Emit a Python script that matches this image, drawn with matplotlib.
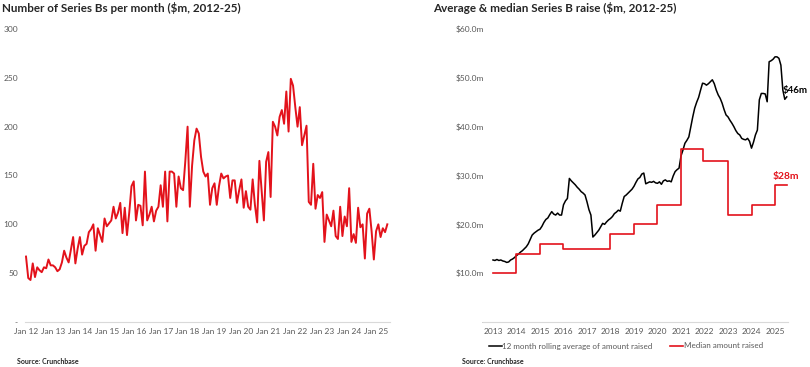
import matplotlib
matplotlib.use("Agg")
import matplotlib.pyplot as plt
import numpy as np

# ---------------- data ----------------
# Left: number of Series B rounds per month, Jan 2012 .. Jun 2025
monthly_counts = [
    67, 45, 43, 60, 46, 56, 53, 51, 56, 55, 64, 58,          # 2012
    58, 56, 52, 54, 61, 73, 66, 61, 74, 87, 60, 75,          # 2013
    87, 69, 78, 80, 92, 95, 100, 73, 96, 89, 82, 106,        # 2014
    98, 101, 104, 118, 106, 112, 122, 91, 117, 89, 112, 139, # 2015
    144, 104, 120, 119, 99, 154, 104, 110, 118, 103, 114, 118,  # 2016
    140, 118, 154, 103, 154, 154, 152, 118, 149, 137, 135, 165, # 2017
    200, 118, 160, 186, 198, 193, 169, 154, 149, 152, 120, 137, # 2018
    142, 120, 139, 152, 147, 149, 150, 127, 145, 145, 122, 135, # 2019
    146, 117, 134, 118, 115, 146, 120, 102, 165, 135, 104, 164, # 2020
    174, 128, 205, 200, 191, 210, 217, 203, 236, 195, 249, 242, # 2021
    220, 200, 220, 181, 191, 201, 123, 120, 162, 116, 130, 127, # 2022
    133, 82, 110, 104, 98, 114, 88, 85, 118, 88, 108, 98,       # 2023
    137, 82, 90, 81, 117, 97, 100, 65, 111, 116, 93, 64,        # 2024
    93, 100, 87, 96, 92, 100,                                   # 2025
]
left_tick_labels = ["Jan %02d" % y for y in range(12, 26)]
left_y_ticks = [0, 50, 100, 150, 200, 250, 300]
left_y_labels = ["-", "50", "100", "150", "200", "250", "300"]

# Right: 12 month rolling average raise ($m), Jan 2013 .. Jul 2025
rolling_avg = [
    12.7, 12.6, 12.8, 12.6, 12.7, 12.5, 12.4, 12.2, 12.3, 12.7, 12.9, 13.2,   # 2013
    13.6, 13.9, 14.3, 14.6, 15.0, 15.4, 16.0, 16.9, 17.8, 18.2, 18.5, 18.8,   # 2014
    19.0, 19.6, 20.4, 21.0, 21.3, 22.0, 22.6, 22.1, 21.9, 22.3, 21.9, 21.9,   # 2015
    24.0, 24.8, 25.3, 29.4, 28.9, 28.5, 28.1, 27.6, 27.2, 26.7, 26.4, 26.0,   # 2016
    24.6, 23.0, 21.9, 17.4, 17.8, 18.3, 18.8, 19.5, 20.2, 20.0, 20.5, 20.9,   # 2017
    21.2, 21.6, 22.2, 22.5, 22.9, 22.7, 24.3, 25.7, 26.0, 26.4, 26.8, 27.2,   # 2018
    27.8, 28.6, 29.3, 29.6, 30.3, 30.5, 28.3, 28.5, 28.7, 28.6, 28.8, 28.5,   # 2019
    28.4, 28.7, 28.2, 28.9, 29.1, 28.8, 28.9, 28.7, 29.9, 30.8, 31.2, 31.5,   # 2020
    34.0, 35.2, 36.6, 37.2, 37.9, 40.0, 42.0, 43.8, 45.0, 46.0, 47.5, 48.9,   # 2021
    48.8, 48.5, 48.8, 49.2, 49.6, 48.8, 47.5, 46.5, 45.8, 44.8, 43.5, 42.4,   # 2022
    42.0, 41.3, 40.7, 40.0, 39.2, 38.6, 38.3, 37.6, 37.4, 37.3, 37.6, 37.0,   # 2023
    35.6, 36.8, 38.3, 39.3, 45.5, 46.8, 46.8, 46.7, 45.1, 53.3, 53.5, 53.8,   # 2024
    54.3, 54.3, 54.0, 52.6, 47.5, 45.6, 46.1,                                 # 2025
]
# Median amount raised: step levels and the dates (decimal years) they start
median_start = [2013.0, 2014.0, 2015.0, 2016.0, 2018.0, 2019.0, 2020.0,
                2021.0, 2021.917, 2023.0, 2024.0, 2025.0, 2025.5]
median_value = [10, 14, 16, 15, 18, 20, 24, 35.5, 33, 22, 24, 28, 28]
right_years = list(range(2013, 2026))
right_y_ticks = [0, 10, 20, 30, 40, 50, 60]
right_y_labels = ["-", "$10.0m", "$20.0m", "$30.0m", "$40.0m", "$50.0m", "$60.0m"]

# ---------------- style ----------------
RED = "#e3121b"
GREY_TXT = "#595959"
AXIS = "#d9d9d9"
plt.rcParams["font.family"] = ["Lato", "DejaVu Sans"]

W, H = 810, 367
fig = plt.figure(figsize=(W / 100, H / 100), dpi=100)
fig.patch.set_facecolor("white")

def fx(px):
    return px / W

def fy(py):
    return 1 - py / H

def style(ax):
    for s in ["top", "right", "left"]:
        ax.spines[s].set_visible(False)
    ax.spines["bottom"].set_color(AXIS)
    ax.spines["bottom"].set_linewidth(0.8)
    ax.tick_params(length=0, labelsize=6, labelcolor=GREY_TXT)
    ax.set_facecolor("none")

# ---------- left chart ----------
axL = fig.add_axes([fx(25), fy(322), fx(390) - fx(25), fy(29) - fy(322)])
style(axL)
mx = np.arange(len(monthly_counts))
axL.plot(mx, monthly_counts, color=RED, lw=1.4, solid_joinstyle="round")
axL.set_xlim(-0.45, 162.2)
axL.set_ylim(0, 300)
axL.set_xticks(np.arange(0, 12 * len(left_tick_labels), 12))
axL.set_xticklabels(left_tick_labels)
axL.set_yticks(left_y_ticks)
axL.set_yticklabels(left_y_labels)
axL.tick_params(axis="y", pad=5)
axL.tick_params(axis="x", pad=4.5)

fig.text(fx(2), fy(8), "Number of Series Bs per month ($m, 2012-25)",
         fontsize=8.4, fontweight="bold", color="#262626", va="center", ha="left")
fig.text(fx(17), fy(362), "Source: Crunchbase", fontsize=5, fontweight="bold",
         color="#262626", va="center", ha="left")

# ---------- right chart ----------
axR = fig.add_axes([fx(483), fy(322), fx(788) - fx(483), fy(29) - fy(322)])
style(axR)
tx = 2013 + np.arange(len(rolling_avg)) / 12.0
l1, = axR.plot(tx, rolling_avg, color="black", lw=1.1,
               label="12 month rolling average of amount raised")
l2, = axR.plot(median_start, median_value, color=RED, lw=1.2, drawstyle="steps-post",
               label="Median amount raised")
axR.set_xlim(2012.575, 2025.553)
axR.set_ylim(0, 60)
axR.set_xticks(right_years)
axR.set_xticklabels([str(y) for y in right_years])
axR.set_yticks(right_y_ticks)
axR.set_yticklabels(right_y_labels)
axR.tick_params(axis="y", pad=-1)
axR.tick_params(axis="x", pad=4.5)

fig.text(fx(783), fy(90.5), "$%dm" % round(rolling_avg[-1]),
         fontsize=7, fontweight="bold", color="black", va="center", ha="left")
fig.text(fx(773), fy(176.5), "$%dm" % round(median_value[-1]),
         fontsize=7.4, fontweight="bold", color=RED, va="center", ha="left")

fig.legend(handles=[l1, l2], loc="center", bbox_to_anchor=(fx(626), fy(346)),
           ncol=2, frameon=False, fontsize=5.8, handlelength=1.6, handletextpad=0.05,
           columnspacing=2.2, labelcolor=GREY_TXT)

fig.text(fx(433), fy(8), "Average & median Series B raise ($m, 2012-25)",
         fontsize=8.4, fontweight="bold", color="#262626", va="center", ha="left")
fig.text(fx(462), fy(362), "Source: Crunchbase", fontsize=5, fontweight="bold",
         color="#262626", va="center", ha="left")

fig.savefig("out.png", dpi=100, facecolor="white")
